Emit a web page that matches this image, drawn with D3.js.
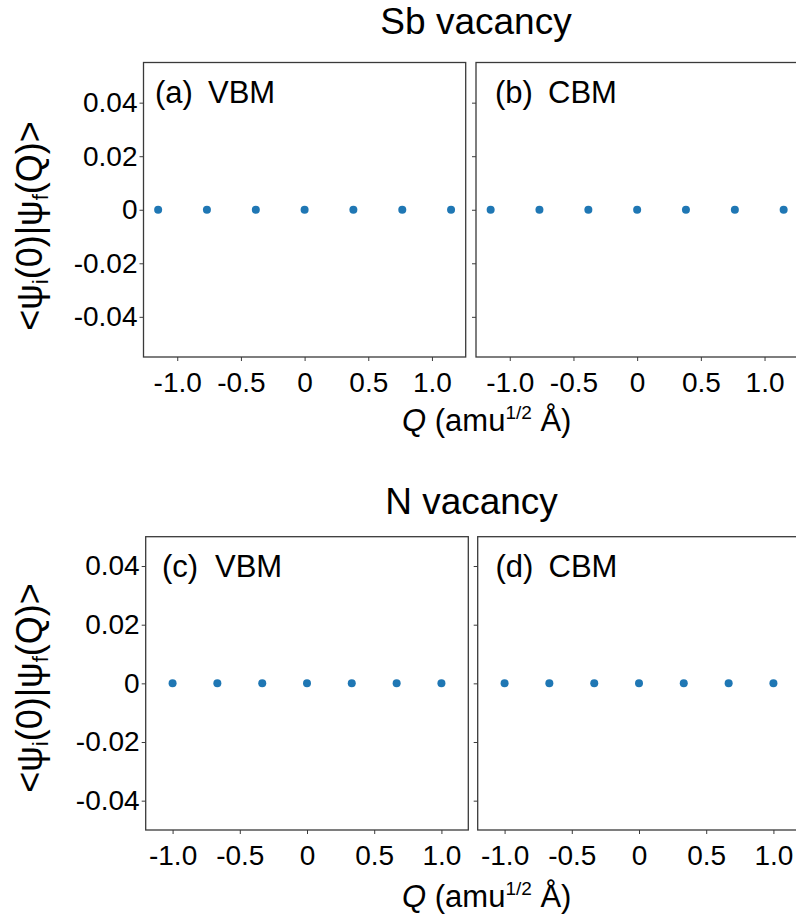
<!DOCTYPE html>
<html>
<head>
<meta charset="utf-8">
<script src="https://cdn.jsdelivr.net/npm/d3@7"></script>
<style>
  html, body { margin: 0; padding: 0; background: #fff; }
  svg { display: block; font-family: "Liberation Sans", Arial, sans-serif; }
</style>
</head>
<body>
<svg id="chart" width="796" height="919"></svg>
<script>
// ---- Data ----
const qSb = [-1.15, -0.767, -0.383, 0, 0.383, 0.767, 1.15];
const qN  = [-1.0, -0.667, -0.333, 0, 0.333, 0.667, 1.0];
const sbVBM = [0, 0, 0, 0, 0, 0, 0];
const sbCBM = [0, 0, 0, 0, 0, 0, 0];
const nVBM  = [0, 0, 0, 0, 0, 0, 0];
const nCBM  = [0, 0, 0, 0, 0, 0, 0];
const xTicks = [-1.0, -0.5, 0, 0.5, 1.0];
const xTickLabels = ["-1.0", "-0.5", "0", "0.5", "1.0"];
const yTicks = [0.04, 0.02, 0, -0.02, -0.04];
const yTickLabels = ["0.04", "0.02", "0", "-0.02", "-0.04"];
const rowTitles = ["Sb vacancy", "N vacancy"];
const panelTags = ["(a)", "(b)", "(c)", "(d)"];
const panelNames = ["VBM", "CBM", "VBM", "CBM"];

// ---- Layout ----
const svg = d3.select("#chart");
const rows = [
  { title: rowTitles[0], titleX: 476, titleY: 34, top: 62.5, bottom: 357,
    xDom: [-1.265, 1.265], yDom: [-0.055, 0.055], q: qSb,
    panels: [{l: 143.5, r: 465.7, v: sbVBM, k: 0, lx: 155}, {l: 476, r: 798.3, v: sbCBM, k: 1, lx: 495}],
    xLabelY: 431, yLabelCY: 226 },
  { title: rowTitles[1], titleX: 471.5, titleY: 514, top: 536.7, bottom: 830,
    xDom: [-1.2, 1.2], yDom: [-0.05, 0.05], q: qN,
    panels: [{l: 145.7, r: 468.3, v: nVBM, k: 2, lx: 162}, {l: 477.7, r: 800.3, v: nCBM, k: 3, lx: 495.5}],
    xLabelY: 907, yLabelCY: 688 }
];

const spineColor = "#3a3a3a";

rows.forEach(row => {
  svg.append("text")
    .attr("x", row.titleX).attr("y", row.titleY)
    .attr("text-anchor", "middle")
    .attr("font-size", 37).attr("fill", "#000")
    .text(row.title);

  row.panels.forEach((p, pi) => {
    const x = d3.scaleLinear().domain(row.xDom).range([p.l, p.r]);
    const y = d3.scaleLinear().domain(row.yDom).range([row.bottom, row.top]);
    const g = svg.append("g");

    // x axis
    const xa = g.append("g")
      .attr("transform", `translate(0,${row.bottom})`)
      .call(d3.axisBottom(x).tickValues(xTicks)
        .tickFormat((d, i) => xTickLabels[i]).tickSize(4).tickPadding(11).tickSizeOuter(0));
    xa.select(".domain").remove();
    xa.selectAll(".tick line").attr("stroke", spineColor).attr("stroke-width", 1);
    xa.selectAll(".tick text").attr("font-size", 28).attr("fill", "#000")
      .attr("font-family", '"Liberation Sans", Arial, sans-serif');

    // y axis
    const ya = g.append("g")
      .attr("transform", `translate(${p.l},0)`)
      .call(d3.axisLeft(y).tickValues(yTicks)
        .tickFormat((d, i) => pi === 0 ? yTickLabels[i] : "").tickSize(4).tickPadding(2).tickSizeOuter(0));
    ya.select(".domain").remove();
    ya.selectAll(".tick line").attr("stroke", spineColor).attr("stroke-width", 1);
    ya.selectAll(".tick text").attr("font-size", 28).attr("fill", "#000")
      .attr("font-family", '"Liberation Sans", Arial, sans-serif');

    // frame
    g.append("rect")
      .attr("x", p.l).attr("y", row.top)
      .attr("width", p.r - p.l).attr("height", row.bottom - row.top)
      .attr("fill", "none").attr("stroke", spineColor).attr("stroke-width", 1.3);

    // points
    g.selectAll("circle.pt").data(row.q.map((q, i) => ({q, v: p.v[i]})))
      .join("circle").attr("class", "pt")
      .attr("cx", d => x(d.q)).attr("cy", d => y(d.v))
      .attr("r", 4).attr("fill", "#1f77b4");

    // panel label
    const t = g.append("text")
      .attr("y", row.top + 40).attr("font-size", 31).attr("fill", "#000");
    t.append("tspan").attr("x", p.lx).text(panelTags[p.k]);
    t.append("tspan").attr("x", p.lx + 53).text(panelNames[p.k]);
  });

  // x label
  const xl = svg.append("text")
    .attr("x", 402).attr("y", row.xLabelY)
    .attr("font-size", 31).attr("fill", "#000");
  xl.append("tspan").attr("font-style", "italic").text("Q");
  xl.append("tspan").text(" (amu");
  xl.append("tspan").attr("font-size", 19).attr("dy", -12).text("1/2");
  xl.append("tspan").attr("dy", 12).text(" Å)");

  // y label
  const yl = svg.append("text")
    .attr("transform", `translate(42,${row.yLabelCY}) rotate(-90)`)
    .attr("text-anchor", "middle")
    .attr("font-size", 36).attr("fill", "#000");
  yl.append("tspan").text("<ψ");
  yl.append("tspan").attr("font-size", 22).attr("dy", 6).text("i");
  yl.append("tspan").attr("dy", -6).text("(0)|ψ");
  yl.append("tspan").attr("font-size", 22).attr("dy", 6).text("f");
  yl.append("tspan").attr("dy", -6).text("(Q)>");
});
</script>
</body>
</html>
